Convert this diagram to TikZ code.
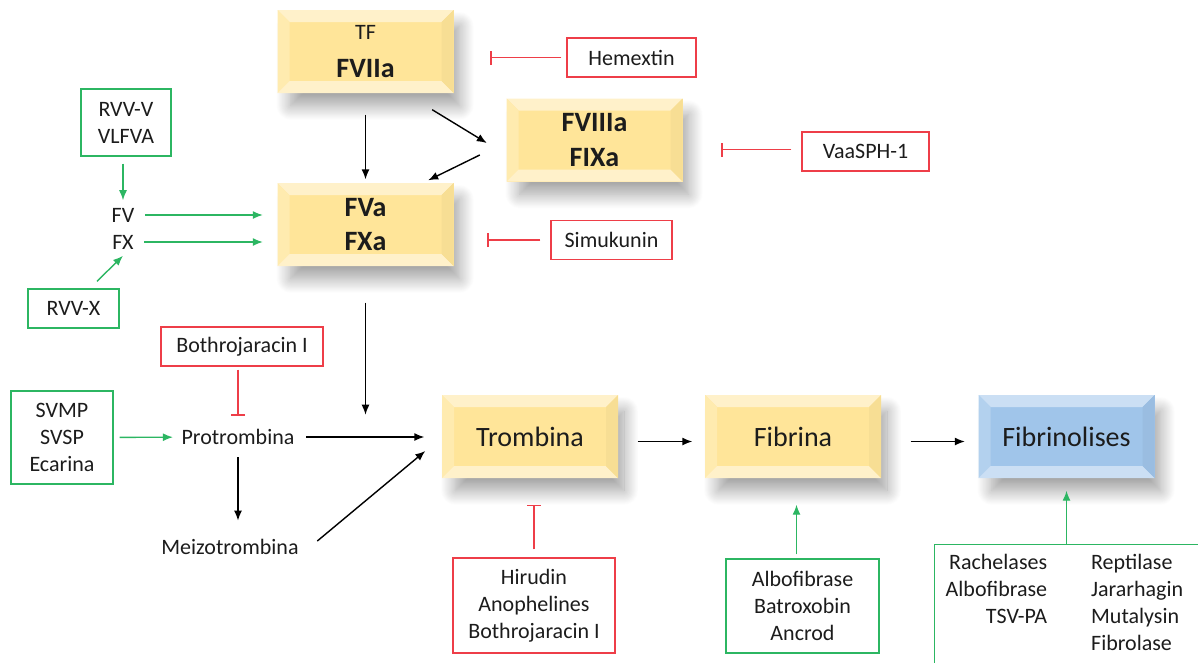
\documentclass[tikz,border=0pt]{standalone}
\usepackage{fontspec}
\setmainfont{Carlito}
\usepackage{tikz}
\usetikzlibrary{calc}
\usetikzlibrary{arrows}
\usetikzlibrary{arrows.meta}
\usetikzlibrary{shadows.blur}

\definecolor{boxyel}{RGB}{255,229,153}
\definecolor{boxblue}{RGB}{160,197,234}
\definecolor{inhred}{RGB}{238,62,72}
\definecolor{actgreen}{RGB}{44,182,98}
\definecolor{txt}{RGB}{28,28,28}

\begin{document}
\begin{tikzpicture}[x=1pt,y=-1pt,->,>={Latex[length=10pt,width=8pt]},line width=1.4pt,
	  every node/.style={font=\fontsize{22}{27}\selectfont,text=txt},
	  lbl/.style={inner sep=2pt},
	  bevel/.style n args={4}{fill=#1,minimum width=176pt,minimum height=83pt,align=center,
	    font=\fontsize{28}{34}\selectfont,
	    blur shadow={shadow xshift=10pt,shadow yshift=-15pt,shadow blur radius=15pt,shadow blur steps=20,shadow opacity=38,shadow scale=0.96},
	    path picture={
	      \path (path picture bounding box.north west) coordinate (bnw)
	            (path picture bounding box.north east) coordinate (bne)
	            (path picture bounding box.south east) coordinate (bse)
	            (path picture bounding box.south west) coordinate (bsw);
	      \fill[#2] (bnw) -- (bne) -- ($(bne)+(-12,12)$) -- ($(bnw)+(12,12)$) -- cycle;
	      \fill[#3] (bnw) -- ($(bnw)+(12,12)$) -- ($(bsw)+(12,-12)$) -- (bsw) -- cycle;
	      \fill[#2] (bsw) -- (bse) -- ($(bse)+(-12,-12)$) -- ($(bsw)+(12,-12)$) -- cycle;
	      \fill[#4] (bne) -- ($(bne)+(-12,12)$) -- ($(bse)+(-12,-12)$) -- (bse) -- cycle;
	    }},
	  yel/.style={bevel={boxyel}{boxyel!52!white}{boxyel!78!white}{boxyel!97!black}},
	  blue/.style={bevel={boxblue}{boxblue!55!white}{boxblue!80!white}{boxblue!96!black}},
	  rbox/.style={draw=inhred,minimum height=39pt,align=center},
	  gbox/.style={draw=actgreen,minimum height=39pt,align=center},
	  act/.style={draw=actgreen},
	  inh/.style={draw=inhred,-{Bar[width=14pt,line width=1.6pt]}}]

	  \useasboundingbox (0,0) rectangle (1198,662);
	  \clip (0,0) rectangle (1198,662);

	  % factors
	  \node[yel] (tf) at (365.5,51.5) {\fontsize{22}{26}\selectfont TF\\[4pt]\fontsize{28}{34}\selectfont\bfseries FVIIa};
	  \node[yel,font=\fontsize{28}{35}\selectfont\bfseries] (f8) at (594.5,140) {FVIIIa\\FIXa};
	  \node[yel,font=\fontsize{28}{34}\selectfont\bfseries] (fva) at (365.5,224.5) {FVa\\FXa};
	  \node[yel] (trombina) at (530,436.5) {Trombina};
	  \node[yel] (fibrina) at (793,436.5) {Fibrina};
	  \node[blue] (fibrinolises) at (1066.5,436.5) {Fibrinolises};

	  \node[lbl] (fv) at (123,215) {FV};
	  \node[lbl] (fx) at (123,242) {FX};
	  \node[lbl] (prot) at (238,437) {Protrombina};
	  \node[lbl] (meizo) at (230,547) {Meizotrombina};

	  % inhibitors
	  \node[rbox,minimum width=129pt] (hemextin) at (631.5,57.5) {Hemextin};
	  \node[rbox,minimum width=127pt] (vaasph) at (865.5,151.5) {VaaSPH-1};
	  \node[rbox,minimum width=121pt] (simukunin) at (611.5,240) {Simukunin};
	  \node[rbox,minimum width=162pt] (bothro) at (242,346.5) {Bothrojaracin I};
	  \node[rbox,minimum width=162pt,minimum height=95pt] (hirudin) at (534,605.5) {Hirudin\\Anophelines\\Bothrojaracin I};

	  % activators
	  \node[gbox,minimum width=90pt,minimum height=67pt] (rvvv) at (126,122.5) {RVV-V\\VLFVA};
	  \node[gbox,minimum width=91pt] (rvvx) at (73.5,308.5) {RVV-X};
	  \node[gbox,minimum width=102pt,minimum height=93pt] (svmp) at (62,437.5) {SVMP\\SVSP\\Ecarina};
	  \node[gbox,minimum width=153pt,minimum height=94pt] (albo) at (802.5,606) {Albofibrase\\Batroxobin\\Ancrod};
	  \node[gbox,anchor=north west,minimum width=290pt,minimum height=120pt,inner xsep=11pt,
	        text width=268pt,align=left] (rach) at (934,544)
	        {\begin{tabular}{@{}r@{\hspace{44pt}}l@{}}
	          Rachelases & Reptilase\\
	          Albofibrase & Jararhagin\\
	          TSV-PA & Mutalysin\\
	           & Fibrolase
	         \end{tabular}};

	  \path
	    (tf) edge[shorten <=21pt,shorten >=3pt] (fva)
	    ($(tf.south east)+(-22,16)$) edge ($(f8.west)+(-19,3)$)
	    ($(f8.west)+(-26,15)$) edge ($(fva.north east)+(-26,-2)$)
	    (fva) edge[shorten <=36pt] ($(fva.south)+(0,148)$)
	    (prot) edge[shorten <=9pt,shorten >=17pt] (prot -| trombina.west)
	    (prot) edge[shorten <=10pt,shorten >=16pt] (prot |- meizo.north)
	    ($(meizo.east)+(16,-6)$) edge ($(trombina.west)+(-16,14.5)$)
	    ([yshift=-5pt]trombina.east) edge[shorten <=19pt,shorten >=12pt] ([yshift=-5pt]fibrina.west)
	    ([yshift=-5pt]fibrina.east) edge[shorten <=29pt,shorten >=13pt] ([yshift=-5pt]fibrinolises.west);

	  \path
	    (rvvv.south -| fv) edge[act,shorten <=7pt,shorten >=5pt] (fv.north)
	    (fv) edge[act,shorten <=8pt,shorten >=14pt] (fv -| fva.west)
	    (fx) edge[act,shorten <=8pt,shorten >=14pt] (fx -| fva.west)
	    ($(rvvx.north)+(23.5,-7)$) edge[act] ($(fx.south)+(0,4)$)
	    (svmp) edge[act,shorten <=6pt,shorten >=6pt] (prot)
	    ([xshift=-6pt]albo.north) edge[act,shorten <=4pt,shorten >=26pt] ([xshift=-6pt]albo.north |- fibrina.south)
	    (fibrinolises |- rach.north) edge[act,shorten >=12pt] (fibrinolises.south);

	  \path
	    (hemextin.west) edge[inh,shorten <=5pt] ($(tf.east |- hemextin.west)+(36,0)$)
	    ([yshift=2pt]vaasph.west) edge[inh,shorten <=10pt] ($(f8.east |- vaasph.west)+(38,-2)$)
	    (simukunin.west) edge[inh,shorten <=10pt] ($(fva.east |- simukunin.west)+(33,0)$)
	    (bothro.south -| prot) edge[inh,shorten <=3pt] ($(prot)+(0,-21)$)
	    (hirudin.north) edge[inh,shorten <=8pt,shorten >=26pt] (hirudin.north |- trombina.south);
	\end{tikzpicture}
\end{document}
